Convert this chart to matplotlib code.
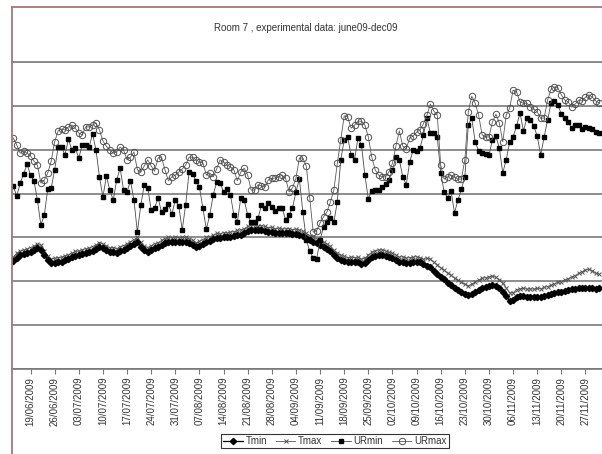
import matplotlib
matplotlib.use("Agg")
import matplotlib.pyplot as plt
import matplotlib.dates as mdates
from matplotlib.lines import Line2D
import pandas as pd

plt.rcParams['font.family'] = ['Liberation Sans', 'DejaVu Sans']

title = "Room 7 , experimental data: june09-dec09"
start_date = "2009-06-14"
series_names = ["Tmin", "Tmax", "URmin", "URmax"]

tmin = [24.6, 25.3, 26.0, 26.2, 26.4, 26.7, 27.1, 27.6, 27.1, 26.0,
        24.9, 24.2, 24.2, 24.4, 24.4, 24.9, 25.1, 25.5, 25.8, 26.0,
        26.2, 26.4, 26.7, 26.9, 27.4, 27.8, 27.6, 27.1, 26.7, 26.7,
        26.4, 26.9, 27.1, 27.6, 28.0, 28.5, 29.0, 27.8, 27.1, 26.7,
        27.1, 27.6, 27.8, 28.3, 28.7, 29.0, 29.0, 29.0, 29.0, 29.0,
        29.0, 28.7, 28.3, 27.8, 28.0, 28.5, 29.0, 29.2, 29.6, 29.9,
        29.9, 30.1, 30.1, 30.1, 30.3, 30.6, 30.6, 31.0, 31.5, 31.7,
        31.7, 31.7, 31.7, 31.5, 31.2, 31.2, 31.0, 31.0, 31.0, 31.0,
        31.0, 30.8, 30.8, 30.6, 30.3, 29.9, 29.4, 29.0, 28.7, 28.3,
        27.8, 27.4, 26.9, 26.0, 25.3, 24.9, 24.6, 24.4, 24.4, 24.4,
        24.4, 23.9, 24.2, 24.9, 25.5, 25.8, 26.0, 26.0, 25.8, 25.5,
        25.3, 24.9, 24.4, 24.4, 24.2, 24.2, 24.4, 24.4, 24.4, 23.9,
        23.5, 23.3, 22.3, 21.7, 21.0, 20.5, 19.6, 19.2, 18.5, 18.0,
        17.6, 17.1, 16.9, 17.1, 17.6, 18.0, 18.5, 18.7, 18.9, 19.2,
        18.9, 18.5, 17.6, 16.6, 15.5, 15.7, 16.4, 16.6, 16.6, 16.4,
        16.4, 16.4, 16.4, 16.4, 16.6, 16.9, 17.1, 17.3, 17.6, 17.6,
        17.8, 18.0, 18.2, 18.2, 18.5, 18.5, 18.5, 18.5, 18.5, 18.2,
        18.5]

tmax = [25.5, 26.4, 26.9, 27.1, 27.4, 27.7, 28.0, 28.5, 28.2, 27.0,
        25.8, 25.1, 25.2, 25.4, 25.5, 25.8, 26.1, 26.4, 26.8, 26.9,
        27.2, 27.4, 27.6, 27.9, 28.3, 28.8, 28.5, 28.1, 27.6, 27.7,
        27.4, 27.9, 28.1, 28.6, 29.0, 29.5, 30.0, 28.9, 28.0, 27.7,
        28.1, 28.6, 28.8, 29.3, 29.7, 30.0, 29.9, 30.1, 29.9, 30.0,
        30.0, 29.7, 29.3, 28.8, 29.1, 29.5, 30.0, 30.2, 30.5, 30.9,
        30.8, 31.1, 31.0, 31.2, 31.3, 31.6, 31.7, 32.0, 32.5, 32.7,
        32.8, 32.6, 32.7, 32.5, 32.2, 32.3, 32.0, 32.1, 31.9, 32.0,
        32.0, 31.8, 31.9, 31.6, 31.4, 30.9, 30.4, 30.1, 29.7, 29.4,
        28.9, 28.5, 28.0, 27.1, 26.4, 25.9, 25.7, 25.4, 25.5, 25.4,
        25.5, 25.0, 25.3, 26.0, 26.6, 27.0, 27.1, 27.2, 26.9, 26.6,
        26.4, 26.0, 25.5, 25.6, 25.3, 25.4, 25.5, 25.6, 25.4, 25.0,
        25.2, 25.1, 24.3, 23.8, 23.1, 22.6, 21.8, 21.4, 20.7, 20.2,
        19.8, 19.3, 19.0, 19.3, 19.8, 20.3, 20.7, 20.8, 21.0, 21.2,
        20.9, 20.4, 19.5, 18.5, 17.4, 17.4, 18.1, 18.3, 18.4, 18.2,
        18.3, 18.2, 18.4, 18.3, 18.6, 18.8, 19.1, 19.4, 19.8, 19.9,
        20.3, 20.6, 21.0, 21.3, 21.8, 22.2, 22.6, 22.7, 22.4, 21.8,
        21.6]

urmin = [41.7, 39.4, 42.4, 44.5, 46.7, 44.2, 42.9, 38.5, 32.8, 35.1,
         41.0, 41.3, 45.4, 50.6, 50.6, 48.8, 52.4, 49.9, 50.4, 48.1,
         51.1, 51.1, 50.6, 53.6, 49.9, 43.8, 39.2, 44.0, 40.8, 38.5,
         43.1, 45.8, 40.8, 40.4, 42.9, 38.5, 31.2, 37.4, 42.0, 41.3,
         36.3, 36.7, 39.0, 35.8, 36.5, 37.6, 35.3, 38.5, 37.2, 31.7,
         37.4, 44.9, 44.5, 42.9, 41.5, 36.7, 31.9, 35.1, 39.7, 42.6,
         42.4, 40.4, 41.0, 39.7, 35.1, 33.5, 39.0, 38.5, 35.1, 33.5,
         33.5, 34.4, 37.4, 36.7, 37.8, 36.9, 36.0, 36.7, 36.7, 34.0,
         35.1, 36.7, 40.4, 43.3, 35.8, 29.4, 26.9, 25.3, 25.1, 29.4,
         32.4, 33.5, 34.4, 33.5, 38.1, 47.7, 52.2, 52.9, 48.8, 47.7,
         52.7, 51.1, 44.2, 38.8, 40.6, 40.8, 40.8, 41.5, 42.2, 43.1,
         45.4, 48.3, 47.7, 43.8, 42.0, 47.2, 49.9, 49.7, 50.4, 53.4,
         57.2, 53.8, 53.8, 52.9, 44.7, 40.4, 39.0, 40.6, 35.6, 38.5,
         41.0, 43.8, 55.6, 57.2, 51.8, 49.7, 49.2, 49.0, 48.8, 52.2,
         53.1, 50.4, 44.7, 47.7, 51.8, 52.9, 55.4, 58.4, 54.3, 57.2,
         56.8, 55.4, 53.1, 48.8, 52.9, 56.8, 60.6, 61.1, 60.2, 58.1,
         57.2, 56.3, 54.9, 55.6, 55.6, 54.7, 55.2, 54.9, 54.7, 54.0,
         53.8]

urmax = [52.7, 51.1, 49.2, 49.7, 49.2, 48.6, 47.4, 46.5, 42.4, 43.1,
         44.7, 47.4, 51.8, 54.3, 54.7, 54.5, 55.2, 55.6, 54.9, 53.8,
         53.4, 55.2, 55.2, 55.6, 56.1, 54.5, 52.0, 50.8, 49.9, 49.2,
         49.5, 50.6, 49.9, 47.7, 48.3, 49.5, 45.4, 44.9, 46.3, 47.7,
         46.3, 45.1, 48.1, 48.3, 45.4, 42.9, 43.8, 44.2, 44.9, 45.6,
         46.5, 48.3, 48.3, 47.7, 47.2, 47.0, 44.2, 44.7, 43.8, 45.6,
         47.7, 47.2, 46.5, 46.1, 45.4, 42.9, 44.9, 45.8, 44.2, 40.8,
         40.8, 42.0, 41.7, 41.5, 43.1, 43.5, 43.5, 43.8, 44.2, 43.5,
         40.4, 41.3, 43.5, 48.1, 48.1, 46.3, 39.0, 31.2, 31.5, 33.3,
         34.7, 35.8, 38.1, 40.8, 46.9, 52.2, 57.7, 57.5, 54.9, 55.6,
         56.5, 56.5, 55.6, 52.9, 48.3, 45.4, 44.2, 43.8, 43.8, 45.0,
         46.9, 50.8, 54.3, 50.8, 50.2, 52.7, 53.1, 54.0, 54.5, 55.9,
         57.9, 60.4, 58.8, 57.9, 46.5, 43.3, 43.8, 44.2, 43.8, 43.3,
         43.3, 47.7, 58.6, 62.2, 60.6, 57.9, 53.4, 52.9, 52.9, 56.3,
         58.1, 56.1, 51.8, 57.9, 59.5, 63.6, 63.2, 60.9, 60.6, 60.6,
         59.7, 59.3, 58.6, 57.2, 57.2, 61.3, 63.8, 64.3, 64.1, 62.5,
         61.3, 60.9, 59.7, 60.4, 61.3, 61.1, 62.0, 62.5, 62.0, 61.1,
         60.6]

dates = pd.date_range(start_date, periods=len(tmin), freq="D")
tick_dates = pd.date_range("2009-06-19", "2009-11-27", freq="7D")
tick_labels = [d.strftime("%d/%m/%Y") for d in tick_dates]

fig = plt.figure(figsize=(6.02, 4.54), dpi=100)
fig.patch.set_facecolor("white")

W, H = 602.0, 454.0
ax = fig.add_axes([12 / W, 1 - 369 / H, (602 - 12) / W, (369 - 62) / H])

ax.plot(dates, tmax, color="#555555", lw=0.6, marker="x", ms=3.5, mew=0.7,
        mec="#555555", label="Tmax", zorder=2)
ax.plot(dates, tmin, color="black", lw=0.9, marker="D", ms=3.2, mfc="black",
        mec="black", label="Tmin", zorder=3)
ax.plot(dates, urmin, color="#4a4a4a", lw=0.6, marker="s", ms=3.0, mfc="black",
        mec="black", label="URmin", zorder=4)
ax.plot(dates, urmax, color="#5a5a5a", lw=0.6, marker="o", ms=4.6, mfc="none",
        mec="#505050", mew=0.7, label="URmax", zorder=5)

ax.set_ylim(0, 70)
ax.set_yticks(range(0, 71, 10))
ax.tick_params(axis="y", left=False, labelleft=False)
ax.yaxis.grid(True, color="#858585", lw=1.3)
ax.set_axisbelow(True)

ax.set_xlim(pd.Timestamp("2009-06-13 15:00"), pd.Timestamp("2009-12-01 19:00"))
ax.set_xticks(tick_dates)
ax.set_xticklabels(tick_labels, rotation=90, fontsize=7, color="#333333")
ax.tick_params(axis="x", direction="out", length=3.5, width=0.8,
               color="#777777", pad=2)

for s in ["left", "right"]:
    ax.spines[s].set_visible(False)
ax.spines["top"].set_color("#858585")
ax.spines["top"].set_linewidth(1.3)
ax.spines["bottom"].set_color("#777777")
ax.spines["bottom"].set_linewidth(1.2)

fig.text(306 / W, 1 - 28 / H, title, ha="center", va="center", fontsize=7,
         color="#333333")

# chart-area border (left and top)
border_c = "#a07878"
fig.add_artist(Line2D([11.5 / W, 11.5 / W], [0, 1 - 6.5 / H], color=border_c,
                      lw=1.3, transform=fig.transFigure))
fig.add_artist(Line2D([11.5 / W, 1], [1 - 6.5 / H, 1 - 6.5 / H], color=border_c,
                      lw=1.3, transform=fig.transFigure))

handles, labels = ax.get_legend_handles_labels()
order = [labels.index(n) for n in series_names]
leg = fig.legend([handles[i] for i in order], [labels[i] for i in order],
                 loc="center", bbox_to_anchor=(335 / W, 1 - 441 / H), ncol=4,
                 fontsize=7, frameon=True, fancybox=False, edgecolor="black",
                 handlelength=2.0, handletextpad=0.3, columnspacing=0.9,
                 borderpad=0.25, borderaxespad=0)
leg.get_frame().set_linewidth(0.8)
for t in leg.get_texts():
    t.set_color("#333333")

fig.savefig("out.png", dpi=100)
